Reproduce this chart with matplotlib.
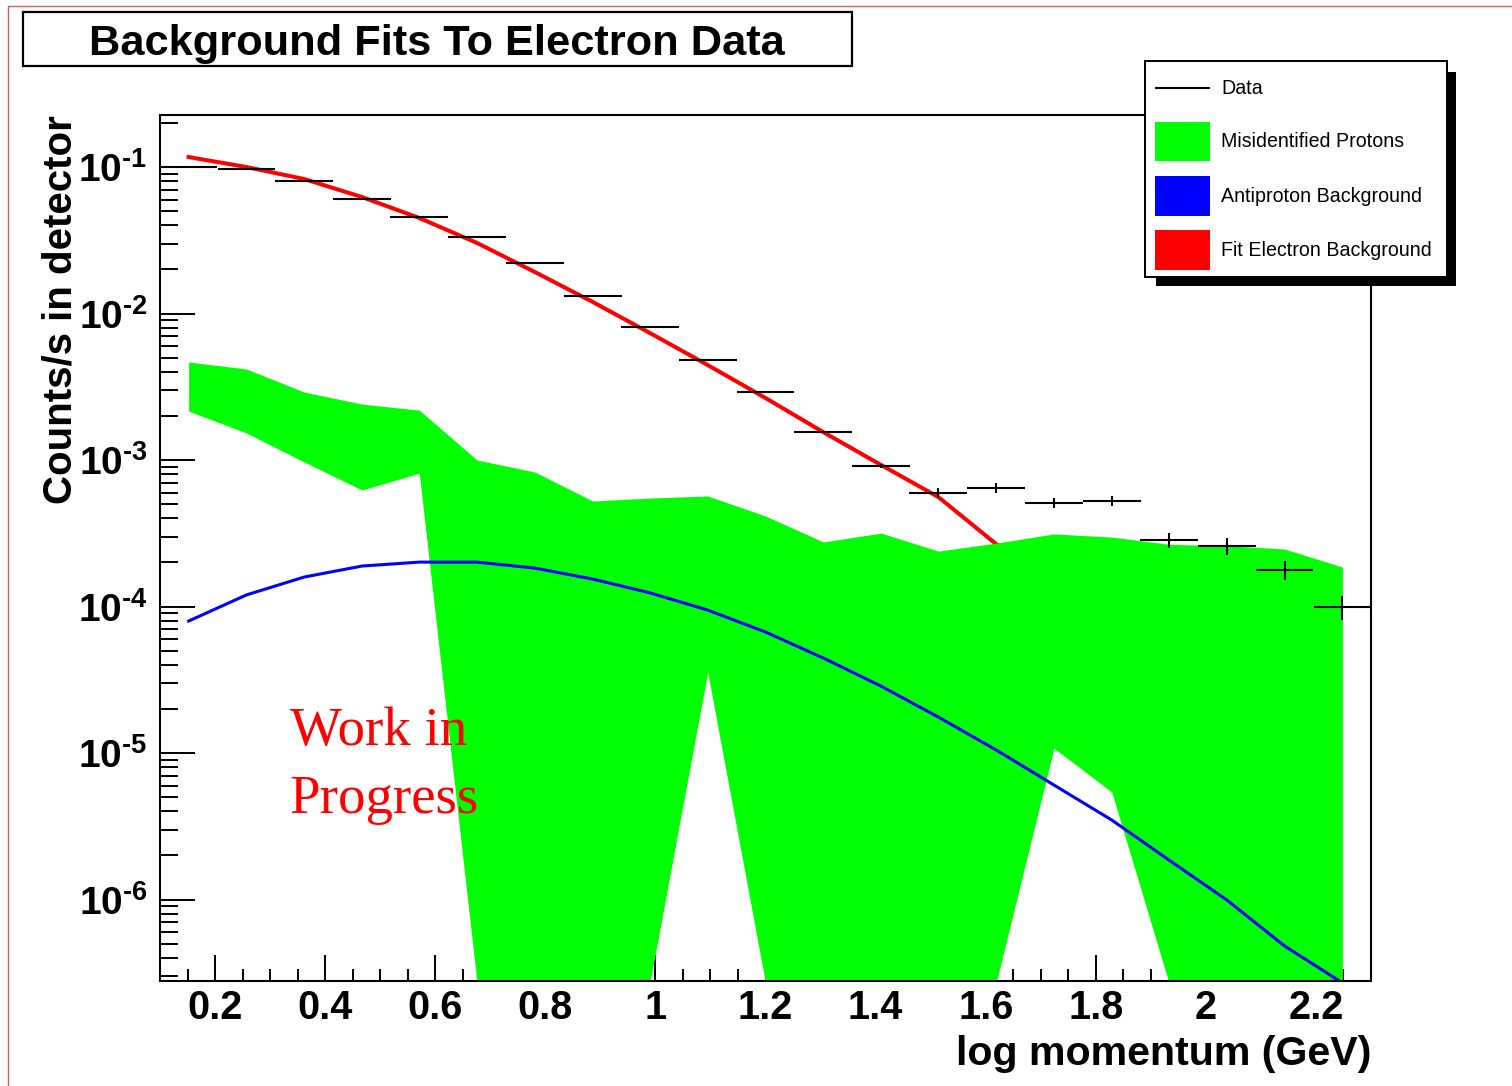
import numpy as np
import matplotlib
matplotlib.use("Agg")
import matplotlib.pyplot as plt
from matplotlib.patches import Rectangle
from matplotlib.lines import Line2D
from matplotlib.ticker import LogLocator, MultipleLocator, FuncFormatter, NullFormatter

plt.rcParams["font.family"] = "Liberation Sans"
plt.rcParams["mathtext.fontset"] = "custom"
plt.rcParams["mathtext.rm"] = "Liberation Sans:bold"
plt.rcParams["mathtext.bf"] = "Liberation Sans:bold"

# bin centres (log momentum), half bin width
bin_x = [0.152, 0.257, 0.362, 0.467, 0.571, 0.676, 0.781, 0.886, 0.990, 1.095, 1.200,
         1.305, 1.410, 1.514, 1.619, 1.724, 1.829, 1.933, 2.038, 2.143, 2.248]
half_w = 0.0524

# measured electron data (counts/s)
data_y = [0.100, 0.097, 0.080, 0.0605, 0.0456, 0.0333, 0.0221, 0.0132, 0.00809, 0.00482, 0.00291,
          0.00155, 0.00091, 0.000595, 0.000644, 0.000508, 0.000525, 0.000284, 0.000259, 0.000177, 0.0000993]
data_err = [0.0006, 0.0006, 0.0005, 0.0004, 0.0003, 0.0002, 0.00015, 0.0001, 0.00007, 0.00005, 0.00004,
            0.00003, 0.000025, 0.000045, 0.000052, 0.000041, 0.000042, 0.000032, 0.000034, 0.000026, 0.000019]

# fitted electron background (hidden under the proton band after ~1.6)
fit_x = bin_x[:16]
fit_y = [0.117, 0.100, 0.0828, 0.0624, 0.0449, 0.0303, 0.0192, 0.0120, 0.00736, 0.00445, 0.00265,
         0.00155, 0.000925, 0.000559, 0.000267, 0.000165]

# antiproton background
pbar_y = [7.96e-5, 1.20e-4, 1.59e-4, 1.89e-4, 2.01e-4, 2.01e-4, 1.83e-4, 1.54e-4, 1.24e-4, 9.46e-5, 6.70e-5,
          4.45e-5, 2.86e-5, 1.76e-5, 1.05e-5, 6.05e-6, 3.49e-6, 1.86e-6, 9.93e-7, 4.82e-7, 2.7e-7]

# misidentified proton band (upper / lower edge)
prot_hi = [4.67e-3, 4.18e-3, 2.91e-3, 2.41e-3, 2.19e-3, 1.00e-3, 8.28e-4, 5.25e-4, 5.50e-4, 5.68e-4, 4.15e-4,
           2.76e-4, 3.17e-4, 2.39e-4, 2.71e-4, 3.13e-4, 2.98e-4, 2.66e-4, 2.60e-4, 2.47e-4, 1.86e-4]
prot_lo = [2.16e-3, 1.53e-3, 9.70e-4, 6.24e-4, 8.14e-4, 2.7e-7, 2.7e-7, 2.7e-7, 2.7e-7, 3.57e-5, 2.7e-7,
           2.7e-7, 2.7e-7, 2.7e-7, 2.7e-7, 1.08e-5, 5.42e-6, 2.7e-7, 2.7e-7, 2.7e-7, 2.7e-7]

W, H = 1512, 1086
fig = plt.figure(figsize=(W / 100, H / 100), dpi=100)


def fx(px):
    return px / W


def fy(py):
    return 1 - py / H


ax = fig.add_axes([fx(160), fy(981), fx(1371) - fx(160), fy(115) - fy(981)])
ax.set_yscale("log")
ax.set_xlim(0.1, 2.3)
ax.set_ylim(2.78e-7, 0.2265)

ax.plot(fit_x, fit_y, color="#ff0000", lw=2.9, zorder=2)
ax.fill_between(bin_x, prot_lo, prot_hi, color="#00ff00", lw=0, zorder=3)
ax.plot(bin_x, pbar_y, color="#0000ff", lw=2.2, zorder=4)
ax.errorbar(bin_x, data_y, xerr=half_w, yerr=data_err, fmt="none", ecolor="black",
            elinewidth=1.5, capsize=0, zorder=5)

# ROOT-like axes
for s in ax.spines.values():
    s.set_linewidth(1.5)
    s.set_zorder(6)
ax.xaxis.set_major_locator(MultipleLocator(0.2))
ax.xaxis.set_minor_locator(MultipleLocator(0.05))
ax.xaxis.set_major_formatter(FuncFormatter(lambda v, p: "%g" % round(v, 2)))
ax.yaxis.set_major_locator(LogLocator(base=10, numticks=20))
ax.yaxis.set_minor_locator(LogLocator(base=10, subs=np.arange(2, 10), numticks=20))
ax.yaxis.set_minor_formatter(NullFormatter())
ax.yaxis.set_major_formatter(
    FuncFormatter(lambda v, p: "$\\mathbf{10^{\u2010%d}}$" % abs(round(np.log10(v)))))

ax.tick_params(axis="x", which="major", direction="in", length=18.5, width=1.4, pad=6,
               labelsize=28.5, top=False)
ax.tick_params(axis="x", which="minor", direction="in", length=8.6, width=1.4, top=False)
ax.tick_params(axis="y", which="major", direction="in", length=25, width=1.4, pad=9,
               labelsize=28, right=False)
ax.tick_params(axis="y", which="minor", direction="in", length=13, width=1.4, right=False)
for lab in ax.get_xticklabels():
    lab.set_fontweight("bold")

fig.text(fx(61), fy(115), "Counts/s in detector", rotation=90, ha="center", va="top",
         fontsize=29, fontweight="bold")
fig.text(fx(1371), fy(1065), "log momentum (GeV)", ha="right", va="baseline",
         fontsize=29.6, fontweight="bold")

ax.text(0.107, 0.2725, "Work in", transform=ax.transAxes, color="#ff0000",
        family="Liberation Serif", fontsize=39.5, va="baseline", zorder=7)
ax.text(0.107, 0.194, "Progress", transform=ax.transAxes, color="#ff0000",
        family="Liberation Serif", fontsize=39.5, va="baseline", zorder=7)

# title box
fig.patches.append(Rectangle((fx(23), fy(66)), fx(852) - fx(23), fy(12) - fy(66),
                             transform=fig.transFigure, fill=False, ec="black", lw=1.6))
fig.text(fx(437), fy(55), "Background Fits To Electron Data", ha="center", va="baseline",
         fontsize=31.2, fontweight="bold")

# legend with shadow
fig.patches.append(Rectangle((fx(1156), fy(286)), fx(1456) - fx(1156), fy(72) - fy(286),
                             transform=fig.transFigure, fc="black", ec="none"))
fig.patches.append(Rectangle((fx(1145), fy(277)), fx(1447) - fx(1145), fy(61) - fy(277),
                             transform=fig.transFigure, fc="white", ec="black", lw=1.4))
fig.lines.append(Line2D([fx(1156), fx(1209)], [fy(88), fy(88)], transform=fig.transFigure,
                        color="black", lw=1.5))
fig.text(fx(1221), fy(88), "Data", va="center", fontsize=14.1)
leg_items = [("#00ff00", "Misidentified Protons", 122, 161),
             ("#0000ff", "Antiproton Background", 176, 216),
             ("#ff0000", "Fit Electron Background", 230, 270)]
for col, name, top, bot in leg_items:
    fig.patches.append(Rectangle((fx(1155), fy(bot)), fx(1210) - fx(1155), fy(top) - fy(bot),
                                 transform=fig.transFigure, fc=col, ec="none"))
    fig.text(fx(1221), fy((top + bot) / 2), name, va="center", fontsize=14.1)

# canvas border
fig.lines.append(Line2D([fx(8), fx(8), fx(1512)], [fy(1086), fy(6), fy(6)],
                        transform=fig.transFigure, color="#c86060", lw=1.0))

fig.savefig("out.png", dpi=100)
